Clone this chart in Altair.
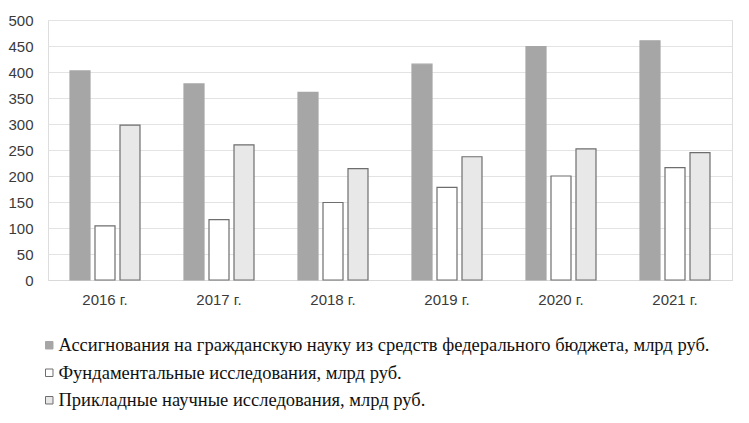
import altair as alt
import pandas as pd

years = ["2016 г.", "2017 г.", "2018 г.", "2019 г.", "2020 г.", "2021 г."]
series = [
    "Ассигнования на гражданскую науку из средств федерального бюджета, млрд руб.",
    "Фундаментальные исследования, млрд руб.",
    "Прикладные научные исследования, млрд руб.",
]
budget = [402, 377, 361, 415, 449, 460]
fundamental = [104, 116, 149, 178, 200, 216]
applied = [298, 260, 214, 237, 252, 245]

rows = []
for i, y in enumerate(years):
    for s, vals in zip(series, [budget, fundamental, applied]):
        rows.append({"year": y, "series": s, "value": vals[i], "order": series.index(s)})
df = pd.DataFrame(rows)

fills = ["#a6a6a6", "#ffffff", "#e8e8e8"]
strokes = ["#a6a6a6", "#6e6e6e", "#6e6e6e"]

leg = alt.Legend(
    title=None, orient="none", direction="vertical", legendX=-8, legendY=316,
    symbolType="square", symbolSize=56, labelFont="Liberation Serif", labelFontSize=18.5,
    labelColor="#111111", labelLimit=800, rowPadding=8.5, symbolStrokeWidth=1, labelOffset=0,
)

chart = alt.Chart(df).mark_bar(strokeWidth=1.2).encode(
    x=alt.X("year:N", sort=years, title=None,
            scale=alt.Scale(paddingInner=0.386, paddingOuter=0.193),
            axis=alt.Axis(labelAngle=0, ticks=False, domainColor="#d9d9d9", labelFont="Liberation Sans",
                          labelFontSize=15, labelColor="#3a3a3a", labelPadding=12)),
    xOffset=alt.XOffset("series:N", sort=series, scale=alt.Scale(paddingInner=0.2)),
    y=alt.Y("value:Q", title=None, scale=alt.Scale(domain=[0, 500]),
            axis=alt.Axis(values=list(range(0, 501, 50)), ticks=False, domain=False,
                          gridColor="#e3e3e3", labelFont="Liberation Sans", labelFontSize=15,
                          labelColor="#3a3a3a", labelPadding=15)),
    color=alt.Color("series:N", sort=series, scale=alt.Scale(domain=series, range=fills), legend=leg),
    stroke=alt.Stroke("series:N", sort=series, scale=alt.Scale(domain=series, range=strokes), legend=leg),
    order=alt.Order("order:Q"),
).properties(
    width=684, height=260,
    autosize=alt.AutoSizeParams(type="none"),
    padding={"left": 40, "top": 12, "right": 9, "bottom": 135},
).configure_view(stroke=None).configure(background="white")

chart.save("out.html", embed_options={"renderer": "svg", "actions": False})
